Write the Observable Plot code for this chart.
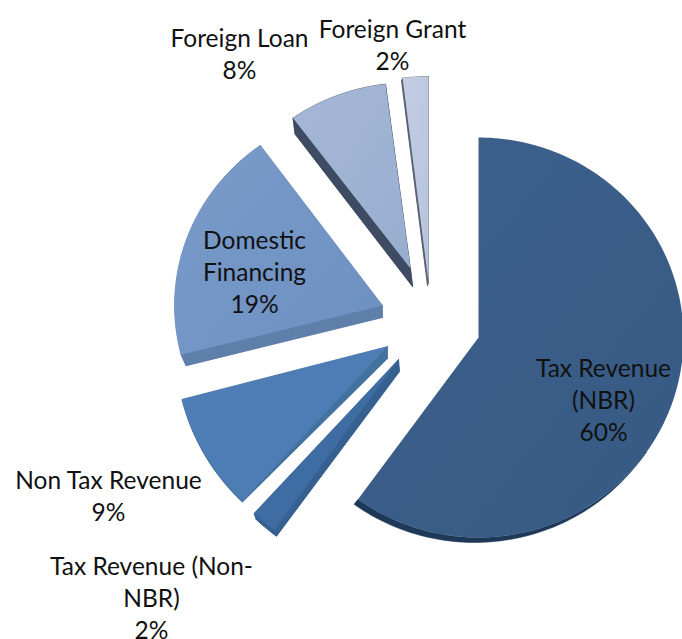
<!DOCTYPE html>
<html>
<head>
<meta charset="utf-8">
<script src="https://cdn.jsdelivr.net/npm/d3@7"></script>
<script src="https://cdn.jsdelivr.net/npm/@observablehq/plot@0.6"></script>
<style>
html,body{margin:0;padding:0;background:#fff}
svg{display:block}
</style>
</head>
<body>
<div id="chart"></div>
<script>
// Data
const categories = ["Tax Revenue (NBR)", "Tax Revenue (Non-NBR)", "Non Tax Revenue", "Domestic Financing", "Foreign Loan", "Foreign Grant"];
const shares = [60, 2, 9, 19, 8, 2];
const labelLines = [
  "Tax Revenue\n(NBR)\n60%",
  "Tax Revenue (Non-\nNBR)\n2%",
  "Non Tax Revenue\n9%",
  "Domestic\nFinancing\n19%",
  "Foreign Loan\n8%",
  "Foreign Grant\n2%"
];

// Layout of the exploded, tilted pie (screen units), one entry per slice
const apexX = [478, 398, 387, 382, 410, 428];
const apexY = [337, 359, 346, 305, 268, 282];
const radiusX = [205, 211, 212, 208, 200, 207];
const radiusY = [200, 211, 212, 198, 186, 206];
const depthApex = [[0, 0], [1, 12], [0, 12], [0, 12], [2, 18], [-1, 3]];
const depthRim = [[-4, 5], [2, 6], [0, 1], [5, 11], [2, 16], [-1, 3]];
const rimOnlyFrom = [125 * Math.PI / 180, null, null, null, null, null]; // side shows only along the front of the rim
const labelX = [603, 151, 108, 254, 239, 392];
const labelY = [399, 597, 495, 271, 53, 44];

// Styles
const topFill = ["url(#g0)", "url(#g1)", "url(#g2)", "url(#g3)", "url(#g4)", "url(#g5)"];
const gradients = [
  ["#3b618c", "#385a84"], ["#3f6fa8", "#3d6a9f"], ["#4f7eb6", "#4d7cb4"],
  ["#7a9bca", "#6c90c1"], ["#a6b7d6", "#98aecf"], ["#c2cde2", "#b6c4dc"]
];
const sideFill = ["#1e3857", "#35608f", "#44729f", "#5f7fab", "#3e4c63", "#565f70"];

// Geometry derived from the values
const arcs = d3.pie().sort(null).value(d => d)(shares);
const rim = (i, sx = 0, sy = 0, from = arcs[i].startAngle) => {
  const a = arcs[i], n = Math.max(4, Math.ceil((a.endAngle - from) / 0.02));
  return d3.range(n + 1).map(k => {
    const t = from + (a.endAngle - from) * k / n;
    return {x: apexX[i] + sx + radiusX[i] * Math.sin(t), y: apexY[i] + sy - radiusY[i] * Math.cos(t)};
  });
};
const topFace = i => {
  const apex = {x: apexX[i], y: apexY[i]};
  return [apex, ...rim(i), apex];
};
const sideFaces = i => {
  const [ax, ay] = depthApex[i], [rx, ry] = depthRim[i];
  const from = rimOnlyFrom[i];
  if (from != null) {
    const r = rim(i, 0, 0, from), s = rim(i, rx, ry, from);
    return [...r, ...s.slice().reverse(), r[0]].map(p => ({...p, z: "strip"}));
  }
  const apex = {x: apexX[i], y: apexY[i]}, low = {x: apex.x + ax, y: apex.y + ay};
  const r = rim(i), s = rim(i, rx, ry), N = r.length - 1;
  const body = [low, ...s, low].map(p => ({...p, z: "body"}));
  const e1 = [apex, r[0], s[0], low, apex].map(p => ({...p, z: "edge1"}));
  const e2 = [apex, r[N], s[N], low, apex].map(p => ({...p, z: "edge2"}));
  const strip = [...r, ...s.slice().reverse(), r[0]].map(p => ({...p, z: "strip"}));
  return [...body, ...e1, ...e2, ...strip];
};

const defs = () => {
  const d = d3.create("svg:defs");
  gradients.forEach((g, i) => {
    const lg = d.append("linearGradient").attr("id", "g" + i)
      .attr("x1", 0).attr("y1", 0).attr("x2", 1).attr("y2", 1);
    lg.append("stop").attr("offset", 0).attr("stop-color", g[0]);
    lg.append("stop").attr("offset", 1).attr("stop-color", g[1]);
  });
  return d.node();
};

const marks = [defs];
shares.forEach((_, i) => {
  marks.push(Plot.line(sideFaces(i), {x: "x", y: "y", z: "z", fill: sideFill[i], stroke: sideFill[i], strokeWidth: 0.5, curve: "linear"}));
});
shares.forEach((_, i) => {
  marks.push(Plot.line(topFace(i), {x: "x", y: "y", fill: topFill[i], stroke: "none", curve: "linear"}));
});
marks.push(Plot.text(categories.map((c, i) => ({c, text: labelLines[i], x: labelX[i], y: labelY[i] - 1})), {
  x: "x", y: "y", text: "text", fill: "#111", fontSize: 24.5, lineHeight: 1.31, textAnchor: "middle"
}));

const chart = Plot.plot({
  width: 682, height: 639,
  marginTop: 0, marginRight: 0, marginBottom: 0, marginLeft: 0,
  x: {domain: [0, 682], range: [0, 682], axis: null},
  y: {domain: [0, 639], range: [0, 639], axis: null},
  style: {fontFamily: "Lato, 'Open Sans', sans-serif", background: "#fff"},
  marks
});
document.getElementById("chart").appendChild(chart);
</script>
</body>
</html>
